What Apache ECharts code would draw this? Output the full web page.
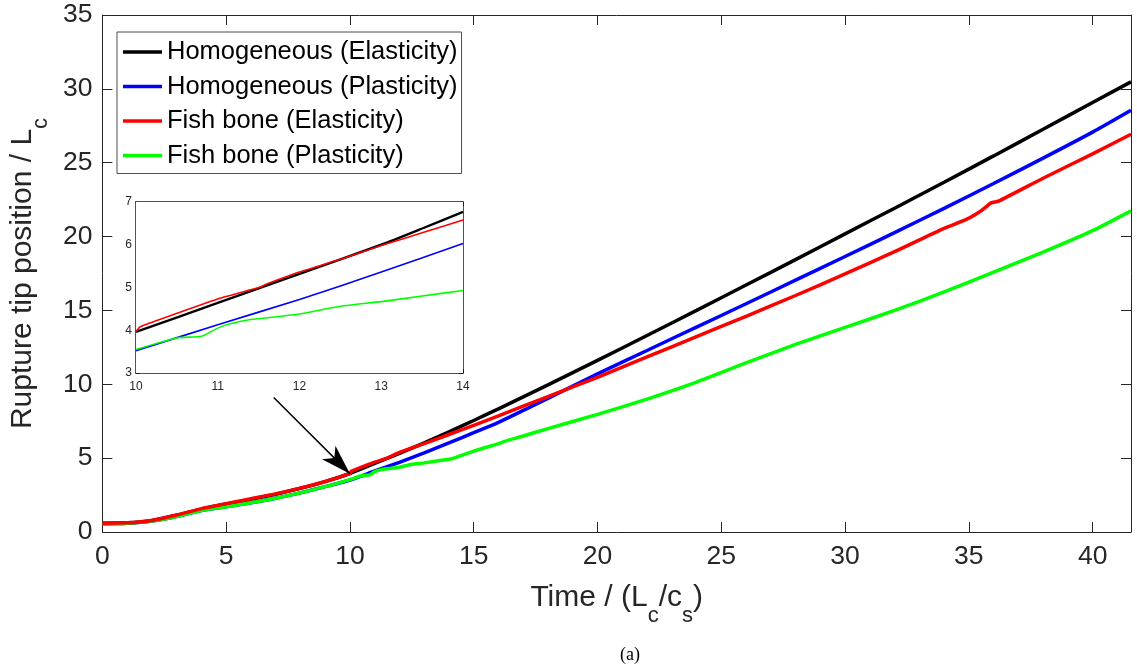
<!DOCTYPE html>
<html><head><meta charset="utf-8">
<script src="https://cdn.jsdelivr.net/npm/echarts@6/dist/echarts.min.js"></script>
<style>html,body{margin:0;padding:0;background:#fff}#c{width:1137px;height:672px}</style>
</head><body><div id="c"></div>
<script>
// ---- data ----
const seriesNames = ['Homogeneous (Elasticity)', 'Homogeneous (Plasticity)', 'Fish bone (Elasticity)', 'Fish bone (Plasticity)'];
const seriesColors = ['#000000', '#0000ff', '#ff0000', '#00ff00'];

const tHomElastic = [0,1,2,3,4,5,6,7,8,9,10,11,12,13,14,15,16,18,20,22,24,26,28,30,32,34,36,38,40,41.55];
const vHomElastic = [0.60,0.62,0.78,1.13,1.55,1.90,2.21,2.56,2.96,3.41,3.96,4.64,5.33,6.04,6.78,7.55,8.34,9.96,11.62,13.30,15.00,16.72,18.44,20.18,21.92,23.68,25.46,27.26,29.08,30.47];

const tHomPlastic = [0,1,2,3,4,5,6,7,8,9,10,11,12,13,14,15,16,18,20,22,24,26,28,30,32,34,36,38,40,41.55];
const vHomPlastic = [0.55,0.60,0.75,1.05,1.45,1.70,1.98,2.28,2.65,3.07,3.52,4.13,4.72,5.36,6.03,6.72,7.42,9.05,10.71,12.29,13.87,15.45,17.05,18.65,20.27,21.91,23.59,25.31,27.07,28.55];

const tFishElastic = [0,1,2,3,4,5,6,7,8,9,10,10.05,11,11.5,12,13,14,15,16,18,20,22,24,26,28,30,32,34,34.9,35.5,35.9,36.2,38,40,41.55];
const vFishElastic = [0.60,0.62,0.78,1.15,1.58,1.92,2.25,2.58,2.97,3.42,3.97,4.10,4.73,5.00,5.39,5.98,6.60,7.22,7.86,9.17,10.47,11.85,13.23,14.60,16.01,17.47,18.98,20.56,21.16,21.75,22.28,22.40,23.95,25.60,26.93];

const tFishPlastic = [0,1,2,3,4,5,6,7,8,9,10,10.5,10.8,11,11.3,12,12.5,13,14,14.2,15,16,16.4,17,18,20,22,24,26,28,30,32,34,36,38,40,41.55];
const vFishPlastic = [0.55,0.60,0.75,1.05,1.45,1.70,1.98,2.28,2.65,3.07,3.55,3.82,3.87,4.09,4.23,4.39,4.58,4.68,4.93,5.00,5.48,5.98,6.22,6.50,7.00,7.96,9.00,10.15,11.45,12.70,13.85,15.00,16.25,17.60,18.95,20.40,21.74];

// inset (zoom on 10..14)
const tInsetHomElastic = [10,11,12,13,13.5,14];
const vInsetHomElastic = [3.96,4.64,5.32,6.00,6.38,6.77];
const tInsetHomPlastic = [10,11,12,13,14];
const vInsetHomPlastic = [3.52,4.13,4.72,5.36,6.03];
const tInsetFishElastic = [10,10.05,10.1,11,11.5,11.6,12,12.5,13,13.5,14];
const vInsetFishElastic = [3.97,4.08,4.12,4.73,5.00,5.08,5.36,5.66,5.98,6.28,6.58];
const tInsetFishPlastic = [10,10.5,10.8,11,11.15,11.4,12,12.5,13,13.5,14];
const vInsetFishPlastic = [3.55,3.82,3.86,4.05,4.15,4.25,4.38,4.56,4.67,4.80,4.93];

// axis ranges / ticks
const mainX = {min: 0, max: 41.55, interval: 5};
const mainY = {min: 0, max: 35, interval: 5};
const insetX = {min: 10, max: 14, interval: 1};
const insetY = {min: 3, max: 7, interval: 1};

// annotation arrow (data coordinates)
const arrowFrom = [6.92, 9.11];
const arrowTo = [10, 3.95];

// ---- build chart ----
const FONT = 'Liberation Sans';
const AX = '#262626';
const zip = (t, v) => t.map((x, i) => [x, v[i]]);

function mkAxis(r, extra) {
  return Object.assign({
    type: 'value', min: r.min, max: r.max, interval: r.interval,
    splitLine: {show: false},
    axisLine: {show: true, onZero: false, lineStyle: {color: AX, width: 1}},
    axisTick: {show: true, inside: true, length: 10, lineStyle: {color: AX, width: 1}},
    axisLabel: {show: true, fontFamily: FONT, fontSize: 26.5, color: AX}
  }, extra);
}
const insetStyle = {
  axisLine: {show: true, onZero: false, lineStyle: {color: '#1a1a1a', width: 1.5}},
  axisTick: {show: true, inside: true, length: 4, lineStyle: {color: '#1a1a1a', width: 1}}
};
const titleRich = {
  n: {fontFamily: FONT, fontSize: 30, color: AX},
  s: {fontFamily: FONT, fontSize: 22, color: AX, padding: [36, 0, 0, 0]}
};

const mainData = [zip(tHomElastic, vHomElastic), zip(tHomPlastic, vHomPlastic), zip(tFishElastic, vFishElastic), zip(tFishPlastic, vFishPlastic)];
const insetData = [zip(tInsetHomElastic, vInsetHomElastic), zip(tInsetHomPlastic, vInsetHomPlastic), zip(tInsetFishElastic, vInsetFishElastic), zip(tInsetFishPlastic, vInsetFishPlastic)];

const series = [];
// draw order: black, blue, green, red (red on top of black at start)
const order = [0, 1, 3, 2];
order.forEach(i => {
  series.push({
    name: seriesNames[i], type: 'line', xAxisIndex: 0, yAxisIndex: 0,
    data: mainData[i], showSymbol: false, symbol: 'none', smooth: 0.2,
    color: seriesColors[i],
    lineStyle: {color: seriesColors[i], width: 3.5}, z: 3
  });
});
order.forEach(i => {
  series.push({
    name: seriesNames[i], type: 'line', xAxisIndex: 1, yAxisIndex: 1,
    data: insetData[i], showSymbol: false, symbol: 'none', smooth: 0.2,
    color: seriesColors[i],
    lineStyle: {color: seriesColors[i], width: i === 0 ? 2.4 : 1.6}, z: 5
  });
});
// arrow annotation (slim concave-back arrowhead, tip at symbol centre)
series.push({
  type: 'line', xAxisIndex: 0, yAxisIndex: 0, data: [], silent: true, z: 6,
  markLine: {
    silent: true,
    symbol: ['none', 'path://M0,0 M60,60 M30,30 L39.5,60 L30,52 L20.5,60 Z'],
    symbolSize: 60,
    label: {show: false}, emphasis: {disabled: true},
    lineStyle: {color: '#000', width: 1.5, type: 'solid'},
    data: [[{coord: arrowFrom}, {coord: arrowTo}]]
  }
});

const option = {
  animation: false,
  backgroundColor: '#fff',
  title: {text: '(a)', left: 615, top: 641,
    textStyle: {fontFamily: 'Liberation Serif', fontSize: 18, fontWeight: 'normal', color: '#000'}},
  grid: [
    {left: 100, top: 15, right: 6, bottom: 140},
    {left: 136, top: 202, width: 327, height: 171, show: true, backgroundColor: '#fff', borderWidth: 0, z: 4}
  ],
  legend: {
    orient: 'vertical', left: 117, top: 32, padding: [5, 4, 3, 6], itemGap: 4.5,
    itemWidth: 39, itemHeight: 3.5, icon: 'rect',
    backgroundColor: '#fff', borderColor: '#4d4d4d', borderWidth: 1, borderRadius: 0,
    textStyle: {fontFamily: FONT, fontSize: 25.5, color: '#000', lineHeight: 30},
    data: seriesNames, selectedMode: false, z: 10
  },
  xAxis: [
    mkAxis(mainX, {gridIndex: 0, position: 'bottom',
      axisLabel: {fontFamily: FONT, fontSize: 26.5, color: AX, margin: 11,
        formatter: v => (v % 5 === 0 ? String(v) : '')},
      name: '{n|Time / (L}{s|c}{n|/c}{s|s}{n|)}', nameLocation: 'middle', nameGap: 37,
      nameTextStyle: {rich: titleRich}}),
    mkAxis(insetX, Object.assign({gridIndex: 1, position: 'bottom',
      axisLabel: {fontFamily: FONT, fontSize: 12, color: AX, margin: 8}}, insetStyle)),
    mkAxis(mainX, {gridIndex: 0, position: 'top', axisLabel: {show: false}}),
    mkAxis(insetX, Object.assign({gridIndex: 1, position: 'top', axisLabel: {show: false}}, insetStyle))
  ],
  yAxis: [
    mkAxis(mainY, {gridIndex: 0, position: 'left',
      axisLabel: {fontFamily: FONT, fontSize: 26.5, color: AX, margin: 10},
      name: '{n|Rupture tip position / L}{s|c}', nameLocation: 'middle', nameGap: 48,
      nameTextStyle: {rich: titleRich}}),
    mkAxis(insetY, Object.assign({gridIndex: 1, position: 'left',
      axisLabel: {fontFamily: FONT, fontSize: 12, color: AX, margin: 4}}, insetStyle)),
    mkAxis(mainY, {gridIndex: 0, position: 'right', axisLabel: {show: false}}),
    mkAxis(insetY, Object.assign({gridIndex: 1, position: 'right', axisLabel: {show: false}}, insetStyle))
  ],
  series: series
};

const chart = echarts.init(document.getElementById('c'), null, {renderer: 'canvas'});
chart.setOption(option);
</script>
</body></html>
